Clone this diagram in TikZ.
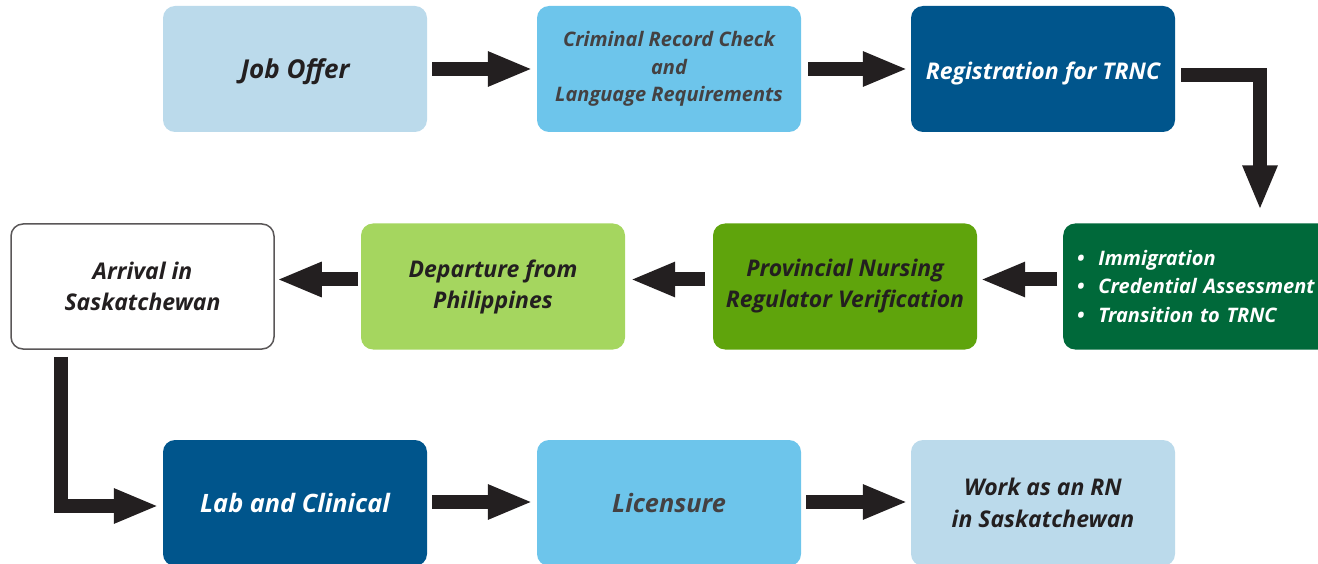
\documentclass[tikz,border=0pt]{standalone}
\usepackage{fontspec}
\setmainfont{Open Sans}
\usetikzlibrary{arrows.meta, positioning}

\definecolor{paleblue}{HTML}{BBDAEB}
\definecolor{skyblue}{HTML}{6DC5EB}
\definecolor{navy}{HTML}{00558C}
\definecolor{forest}{HTML}{00693A}
\definecolor{grass}{HTML}{5FA40C}
\definecolor{lime}{HTML}{A5D65F}
\definecolor{ink}{HTML}{231F20}

\tikzset{
  step box/.style={rounded corners=12pt, minimum width=264pt, minimum height=126pt,
    inner sep=4pt, align=center, text=ink, font=\bfseries\itshape\fontsize{23}{31}\selectfont},
  flow/.style={draw=ink, line width=14pt, line join=miter,
    -{Triangle[length=45pt, width=32pt]}},
}

\begin{document}
\begin{tikzpicture}[x=1pt, y=-1pt]

\path[use as bounding box, clip] (0,0) rectangle (1318,564);

% top row, left to right
\node[step box, fill=paleblue, text depth=0pt, text height=20pt, font=\bfseries\itshape\fontsize{26}{31}\selectfont] (job) at (295,69) {Job Offer};
\node[step box, fill=skyblue, text=ink!85, font=\bfseries\itshape\fontsize{20}{27.5}\selectfont] (crim) at (669,69) {Criminal Record Check\\and\\Language Requirements};
\node[step box, fill=navy, text=white, text depth=0pt, text height=22pt] (reg) at (1043,69) {Registration for TRNC};

% middle row, right to left
\node[step box, fill=forest, text=white, anchor=west, align=left, text width=250pt,
  inner xsep=14pt, font=\bfseries\itshape\fontsize{20}{28}\selectfont] (imm) at (1063,286.5)
  {\textbullet\hspace{14pt}Immigration\\\textbullet\hspace{14pt}Credential Assessment\\\textbullet\hspace{14pt}Transition to TRNC};
\node[step box, fill=grass] (prov) at (845,286.5) {Provincial Nursing\\Regulator Verification};
\node[step box, fill=lime] (dep) at (493,286.5) {Departure from\\Philippines};
\node[step box, fill=white, draw=ink!75, line width=1.5pt, minimum width=263pt, minimum height=125pt] (arr) at (142.5,286.5) {Arrival in\\Saskatchewan};

% bottom row
\node[step box, fill=navy, text=white, font=\bfseries\itshape\fontsize{25.3}{31}\selectfont] (lab) at (295,503) {Lab and Clinical};
\node[step box, fill=skyblue, text=ink!85, font=\bfseries\itshape\fontsize{25.3}{31}\selectfont] (lic) at (669,503) {Licensure};
\node[step box, fill=paleblue, font=\bfseries\itshape\fontsize{23}{32}\selectfont] (work) at (1043,503) {Work as an RN\\in Saskatchewan};

% arrows
\draw[flow] ([xshift=5pt]job.east) -- ([xshift=-4pt]crim.west);
\draw[flow] ([xshift=7pt]crim.east) -- ([xshift=-3pt]reg.west);
\draw[flow] ([xshift=6pt, yshift=-6pt]reg.east) -| ([xshift=197pt, yshift=13pt]imm.north west);
\draw[flow] ([xshift=-6pt, yshift=7pt]imm.west) -- ([xshift=3pt, yshift=7pt]prov.east);
\draw[flow] ([xshift=-8pt, yshift=7pt]prov.west) -- ([xshift=5pt, yshift=7pt]dep.east);
\draw[flow] ([xshift=-3pt, yshift=7pt]dep.west) -- ([xshift=2pt, yshift=7pt]arr.east);
\draw[flow] ([xshift=-82pt, yshift=-7pt]arr.south) |- ([xshift=-4pt, yshift=-3pt]lab.west);
\draw[flow] ([xshift=5pt, yshift=1pt]lab.east) -- ([xshift=-4pt, yshift=1pt]lic.west);
\draw[flow] ([xshift=5pt, yshift=1pt]lic.east) -- ([xshift=-3pt, yshift=1pt]work.west);

\end{tikzpicture}
\end{document}
